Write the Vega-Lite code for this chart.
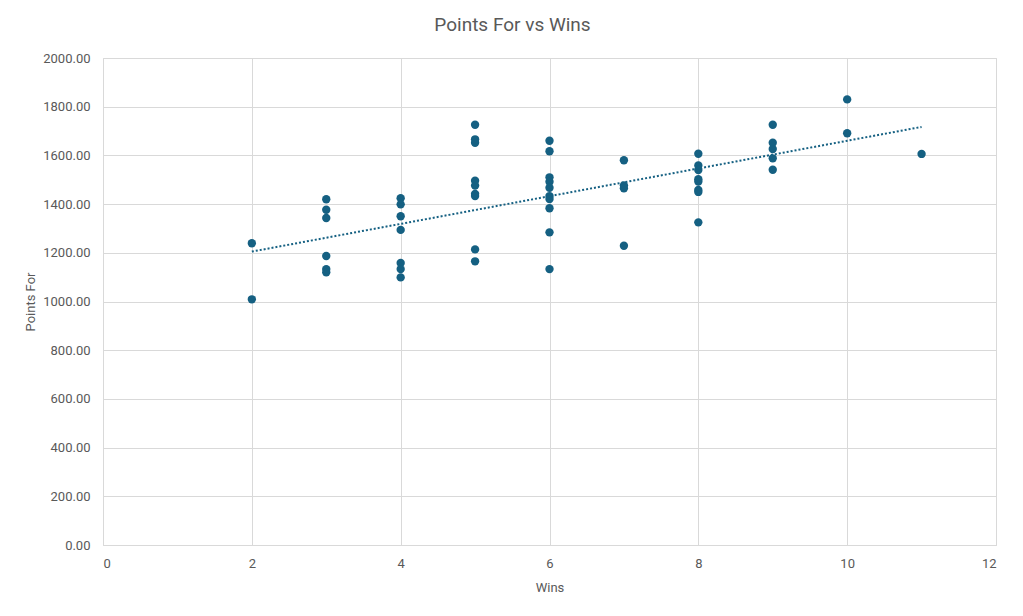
{
  "$schema": "https://vega.github.io/schema/vega-lite/v6.json",
  "autosize": {"type": "none"},
  "width": 893,
  "height": 487,
  "padding": {"left": 103, "top": 58, "right": 27, "bottom": 71},
  "background": "white",
  "title": {
    "text": "Points For vs Wins",
    "font": "Roboto, sans-serif",
    "fontSize": 19,
    "fontWeight": "normal",
    "color": "#595959",
    "anchor": "middle",
    "dx": -37,
    "offset": 17
  },
  "config": {
    "font": "Roboto, sans-serif",
    "view": {"stroke": "#d9d9d9", "strokeWidth": 1},
    "axis": {
      "labelFont": "Roboto, sans-serif",
      "titleFont": "Roboto, sans-serif",
      "labelColor": "#595959",
      "titleColor": "#595959",
      "labelFontSize": 13,
      "titleFontSize": 13,
      "titleFontWeight": "normal",
      "gridColor": "#d9d9d9",
      "gridWidth": 1,
      "domainColor": "#d9d9d9",
      "ticks": false
    }
  },
  "data": {
    "values": [
      {"Wins": 2, "PointsFor": 1239},
      {"Wins": 2, "PointsFor": 1009},
      {"Wins": 3, "PointsFor": 1420},
      {"Wins": 3, "PointsFor": 1377},
      {"Wins": 3, "PointsFor": 1343},
      {"Wins": 3, "PointsFor": 1187},
      {"Wins": 3, "PointsFor": 1133},
      {"Wins": 3, "PointsFor": 1120},
      {"Wins": 4, "PointsFor": 1424},
      {"Wins": 4, "PointsFor": 1399},
      {"Wins": 4, "PointsFor": 1350},
      {"Wins": 4, "PointsFor": 1294},
      {"Wins": 4, "PointsFor": 1158},
      {"Wins": 4, "PointsFor": 1133},
      {"Wins": 4, "PointsFor": 1099},
      {"Wins": 5, "PointsFor": 1726},
      {"Wins": 5, "PointsFor": 1666},
      {"Wins": 5, "PointsFor": 1652},
      {"Wins": 5, "PointsFor": 1496},
      {"Wins": 5, "PointsFor": 1476},
      {"Wins": 5, "PointsFor": 1442},
      {"Wins": 5, "PointsFor": 1433},
      {"Wins": 5, "PointsFor": 1214},
      {"Wins": 5, "PointsFor": 1165},
      {"Wins": 6, "PointsFor": 1660},
      {"Wins": 6, "PointsFor": 1617},
      {"Wins": 6, "PointsFor": 1510},
      {"Wins": 6, "PointsFor": 1492},
      {"Wins": 6, "PointsFor": 1467},
      {"Wins": 6, "PointsFor": 1433},
      {"Wins": 6, "PointsFor": 1421},
      {"Wins": 6, "PointsFor": 1383},
      {"Wins": 6, "PointsFor": 1284},
      {"Wins": 6, "PointsFor": 1133},
      {"Wins": 7, "PointsFor": 1580},
      {"Wins": 7, "PointsFor": 1477},
      {"Wins": 7, "PointsFor": 1465},
      {"Wins": 7, "PointsFor": 1229},
      {"Wins": 8, "PointsFor": 1607},
      {"Wins": 8, "PointsFor": 1559},
      {"Wins": 8, "PointsFor": 1540},
      {"Wins": 8, "PointsFor": 1502},
      {"Wins": 8, "PointsFor": 1493},
      {"Wins": 8, "PointsFor": 1458},
      {"Wins": 8, "PointsFor": 1450},
      {"Wins": 8, "PointsFor": 1325},
      {"Wins": 9, "PointsFor": 1726},
      {"Wins": 9, "PointsFor": 1652},
      {"Wins": 9, "PointsFor": 1626},
      {"Wins": 9, "PointsFor": 1588},
      {"Wins": 9, "PointsFor": 1541},
      {"Wins": 10, "PointsFor": 1830},
      {"Wins": 10, "PointsFor": 1691},
      {"Wins": 11, "PointsFor": 1606}
    ]
  },
  "encoding": {
    "x": {
      "field": "Wins",
      "type": "quantitative",
      "scale": {"domain": [0, 12], "nice": false, "zero": true},
      "axis": {"values": [0, 2, 4, 6, 8, 10, 12], "title": "Wins", "labelPadding": 12, "titlePadding": 11, "domain": true}
    },
    "y": {
      "field": "PointsFor",
      "type": "quantitative",
      "scale": {"domain": [0, 2000], "nice": false},
      "axis": {"values": [0, 200, 400, 600, 800, 1000, 1200, 1400, 1600, 1800, 2000], "format": ".2f", "title": "Points For", "labelPadding": 13, "titlePadding": 5, "domain": false}
    }
  },
  "layer": [
    {
      "mark": {"type": "point", "filled": true, "size": 70, "color": "#156082", "opacity": 1}
    },
    {
      "transform": [{"regression": "PointsFor", "on": "Wins", "extent": [2, 11]}],
      "mark": {"type": "line", "color": "#156082", "strokeWidth": 2, "strokeDash": [2, 2]}
    }
  ]
}
